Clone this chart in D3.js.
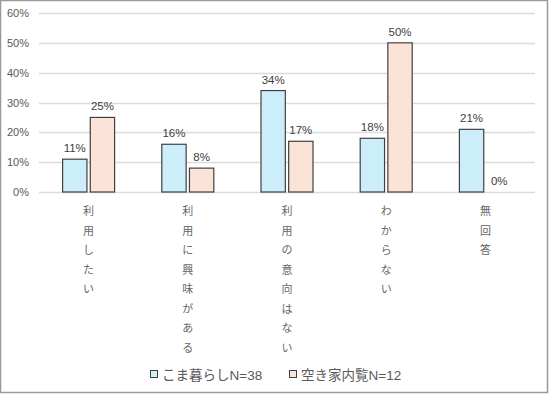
<!DOCTYPE html>
<html>
<head>
<meta charset="utf-8">
<script src="https://cdn.jsdelivr.net/npm/d3@7"></script>
<style>
  body { margin: 0; background: #fff; }
  svg { display: block; }
</style>
</head>
<body>
<script>
// Chart data
var categories = ["利用したい", "利用に興味がある", "利用の意向はない", "わからない", "無回答"];
var seriesNames = ["こま暮らしN=38", "空き家内覧N=12"];
var komaValues = [11, 16, 34, 18, 21];
var akiyaValues = [25, 8, 17, 50, 0];
var yTicks = [0, 10, 20, 30, 40, 50, 60];

var svgWidth = 550;
var svgHeight = 395;
var margin = { top: 13, right: 15, bottom: 203, left: 39 };
var chartWidth = svgWidth - margin.left - margin.right;
var chartHeight = svgHeight - margin.top - margin.bottom;

var colors = ["#CCEEFA", "#FBE3D7"];
var fontFam = "'Liberation Sans', Arial, 'Noto Sans CJK JP', sans-serif";

var svg = d3.select("body")
  .append("svg")
  .attr("width", svgWidth)
  .attr("height", svgHeight);

// outer frame
svg.append("rect")
  .attr("x", 0.5).attr("y", 0.5)
  .attr("width", svgWidth - 3).attr("height", svgHeight - 3)
  .attr("fill", "#fff")
  .attr("stroke", "#999")
  .attr("stroke-width", 1.5);

var chartGroup = svg.append("g")
  .attr("transform", `translate(${margin.left}, ${margin.top})`);

var data = categories.map(function (c, i) {
  return { cat: c, values: [komaValues[i], akiyaValues[i]] };
});

var x0 = d3.scaleBand()
  .domain(categories)
  .range([0, chartWidth]);

var x1 = d3.scaleBand()
  .domain([0, 1])
  .range([x0.bandwidth() / 2 - 26, x0.bandwidth() / 2 + 26])
  .paddingInner(0.12);

var y = d3.scaleLinear()
  .domain([0, 60])
  .range([chartHeight, 0]);

// gridlines
chartGroup.selectAll(".grid")
  .data(yTicks)
  .enter()
  .append("line")
  .attr("x1", 0)
  .attr("x2", chartWidth)
  .attr("y1", d => Math.round(y(d)) + 0.5)
  .attr("y2", d => Math.round(y(d)) + 0.5)
  .attr("stroke", "#dcdcdc")
  .attr("stroke-width", 1.5);

// y axis labels
var leftAxis = d3.axisLeft(y)
  .tickValues(yTicks)
  .tickFormat(d => d + "%")
  .tickSize(0)
  .tickPadding(10);

var yAxisG = chartGroup.append("g").call(leftAxis);
yAxisG.select(".domain").remove();
yAxisG.selectAll("text")
  .attr("fill", "#595959")
  .attr("font-size", "11px")
  .attr("font-family", fontFam);

// bars
var groups = chartGroup.selectAll(".cat")
  .data(data)
  .enter()
  .append("g")
  .attr("transform", d => `translate(${x0(d.cat)}, 0)`);

groups.selectAll("rect")
  .data(d => d.values.map((v, i) => ({ v: v, i: i })))
  .enter()
  .append("rect")
  .attr("x", d => x1(d.i))
  .attr("y", d => y(d.v))
  .attr("width", x1.bandwidth())
  .attr("height", d => chartHeight - y(d.v))
  .attr("fill", d => colors[d.i])
  .attr("stroke", d => d.v > 0 ? "#404040" : "none")
  .attr("stroke-width", 1.2);

// value labels
groups.selectAll(".val")
  .data(d => d.values.map((v, i) => ({ v: v, i: i })))
  .enter()
  .append("text")
  .attr("x", d => x1(d.i) + x1.bandwidth() / 2)
  .attr("y", d => y(d.v) - 7)
  .attr("text-anchor", "middle")
  .attr("font-size", "11.5px")
  .attr("font-family", fontFam)
  .attr("fill", "#404040")
  .text(d => d.v + "%");

// vertical category labels
groups.each(function (d) {
  var g = d3.select(this);
  Array.from(d.cat).forEach(function (ch, k) {
    g.append("text")
      .attr("x", x0.bandwidth() / 2)
      .attr("y", chartHeight + 23 + k * 19.5)
      .attr("text-anchor", "middle")
      .attr("font-size", "11px")
      .attr("font-family", "'Noto Sans CJK JP', sans-serif")
      .attr("fill", "#666")
      .text(ch);
  });
});

// legend
var legendX = [150, 289];
var legend = svg.selectAll(".legend")
  .data(seriesNames)
  .enter()
  .append("g")
  .attr("transform", (d, i) => `translate(${legendX[i]}, 375)`);

legend.append("rect")
  .attr("x", 0.5)
  .attr("y", -4.5)
  .attr("width", 7)
  .attr("height", 7)
  .attr("fill", (d, i) => colors[i])
  .attr("stroke", "#404040")
  .attr("stroke-width", 1);

legend.append("text")
  .attr("x", 12)
  .attr("y", 4.5)
  .attr("font-size", "13.5px")
  .attr("font-family", "'Liberation Sans', Arial, 'Noto Sans CJK JP', sans-serif")
  .attr("fill", "#595959")
  .text(d => d);
</script>
</body>
</html>
